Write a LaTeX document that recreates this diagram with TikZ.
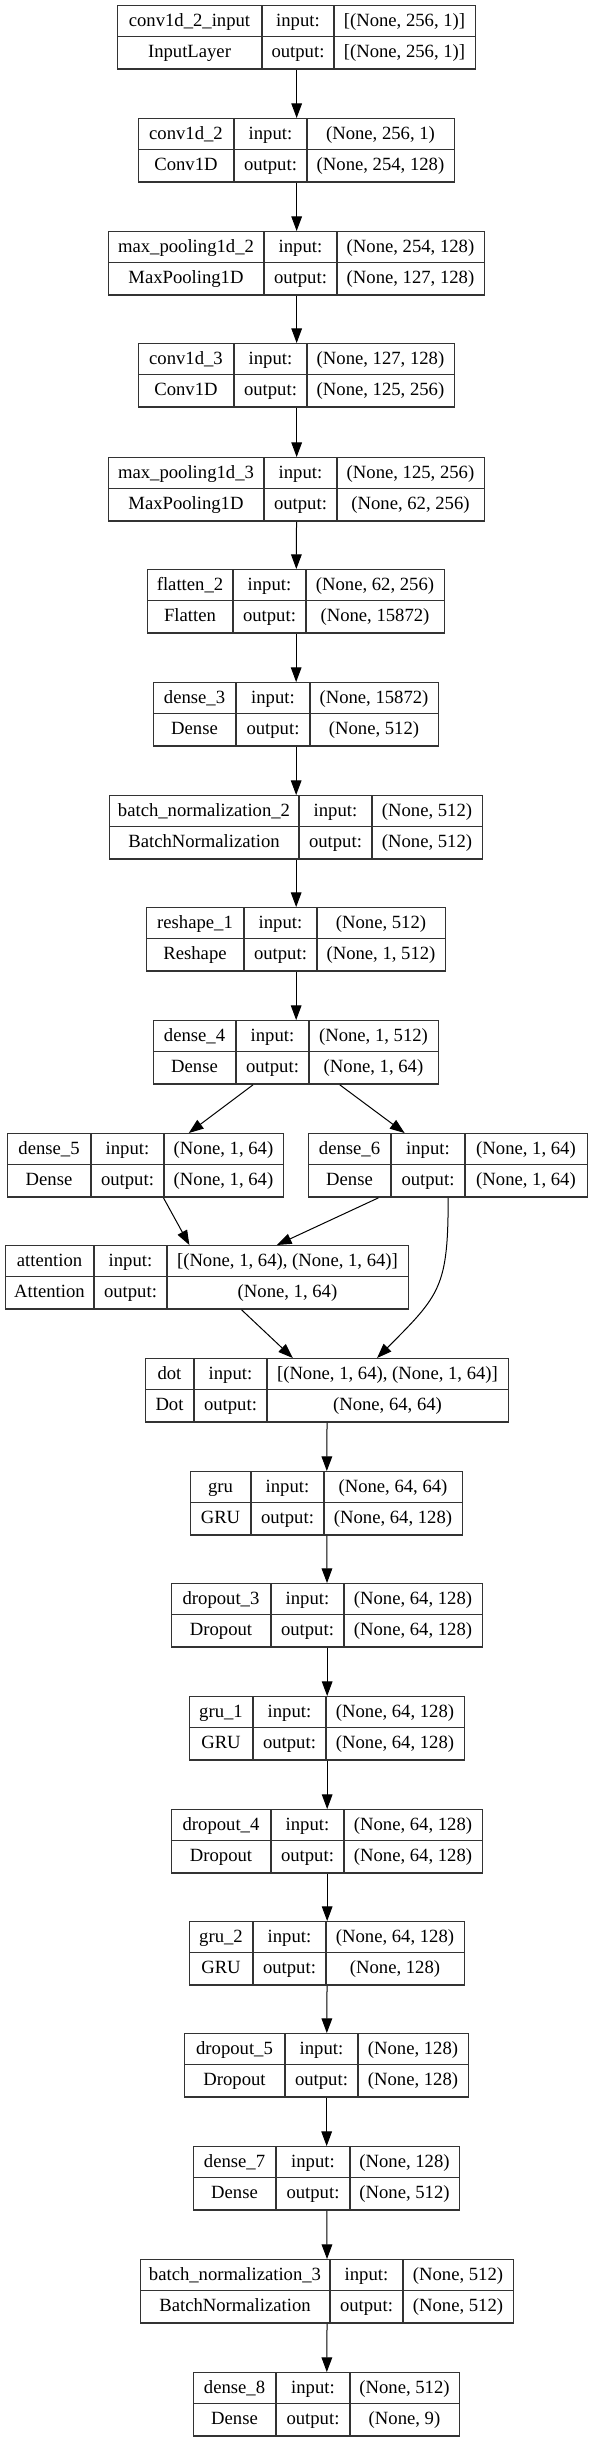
\documentclass[tikz,border=0pt]{standalone}
\usepackage{fontspec}
\setmainfont{Liberation Serif}
\usepackage{tikz}
\usetikzlibrary{arrows.meta,calc}
\definecolor{boxline}{HTML}{333333}
\tikzset{layerbox/.style={
    draw=boxline,
    line width=1pt,
    fill=white,
    inner sep=0pt,
    minimum height=47.6pt}}
\tikzset{cellline/.style={
    draw=boxline,
    line width=1pt}}
\tikzset{celltext/.style={
    inner sep=0pt,
    text height=9.5pt,
    text depth=3pt,
    font=\fontsize{14}{16}\selectfont}}
\tikzset{nnedge/.style={
    draw=black,
    line width=0.75pt,
    -{Triangle[length=11pt,width=8pt]}}}

% #1 id, #2 left, #3 first divider, #4 second divider, #5 right, #6 top,
% #7 layer name, #8 layer class, #9 {input shape}{output shape}
\newcommand{\nnlayer}[9]{%
  \node[layerbox, minimum width={(#5-#2)*0.75pt}, anchor=north west] (#1) at (#2,-#6) {};
  \draw[cellline] (#3,-#6) -- (#3,{-#6-63.5});
  \draw[cellline] (#4,-#6) -- (#4,{-#6-63.5});
  \draw[cellline] (#2,{-#6-31.75}) -- (#5,{-#6-31.75});
  \node[celltext] (#1-name) at ({(#2+#3)/2},{-#6-17}) {#7};
  \node[celltext] (#1-cls) at ({(#2+#3)/2},{-#6-48.5}) {#8};
  \node[celltext] (#1-in) at ({(#3+#4)/2},{-#6-17}) {input:};
  \node[celltext] (#1-out) at ({(#3+#4)/2},{-#6-48.5}) {output:};
  \nnshapes{#1}{(#4+#5)/2}{#6}#9}
\newcommand{\nnshapes}[5]{%
  \node[celltext] (#1-ishape) at ({#2},{-#3-17}) {#4};
  \node[celltext] (#1-oshape) at ({#2},{-#3-48.5}) {#5};}

\begin{document}
\begin{tikzpicture}[x=0.75pt,y=0.75pt]
\useasboundingbox (0,0) rectangle (591,-2441);

\nnlayer{inp}{117}{262}{334}{475}{5}{conv1d\_2\_input}{InputLayer}{{[(None, 256, 1)]}{[(None, 256, 1)]}}
\nnlayer{cva}{138}{234}{307}{454}{118}{conv1d\_2}{Conv1D}{{(None, 256, 1)}{(None, 254, 128)}}
\nnlayer{mpa}{108}{264}{337}{484}{231}{max\_pooling1d\_2}{MaxPooling1D}{{(None, 254, 128)}{(None, 127, 128)}}
\nnlayer{cvb}{138}{234}{307}{454}{343}{conv1d\_3}{Conv1D}{{(None, 127, 128)}{(None, 125, 256)}}
\nnlayer{mpb}{108}{264}{337}{484}{457}{max\_pooling1d\_3}{MaxPooling1D}{{(None, 125, 256)}{(None, 62, 256)}}
\nnlayer{flat}{147}{233}{306}{444}{569}{flatten\_2}{Flatten}{{(None, 62, 256)}{(None, 15872)}}
\nnlayer{dsa}{153}{236}{310}{438}{682}{dense\_3}{Dense}{{(None, 15872)}{(None, 512)}}
\nnlayer{bna}{109}{299}{372}{482}{795}{batch\_normalization\_2}{BatchNormalization}{{(None, 512)}{(None, 512)}}
\nnlayer{resh}{146}{244}{317}{445}{907}{reshape\_1}{Reshape}{{(None, 512)}{(None, 1, 512)}}
\nnlayer{dsb}{153}{236}{309}{438}{1020}{dense\_4}{Dense}{{(None, 1, 512)}{(None, 1, 64)}}
\nnlayer{dsc}{7}{91}{164}{283}{1133}{dense\_5}{Dense}{{(None, 1, 64)}{(None, 1, 64)}}
\nnlayer{dsd}{308}{391}{465}{587}{1133}{dense\_6}{Dense}{{(None, 1, 64)}{(None, 1, 64)}}
\nnlayer{att}{5}{94}{167}{408}{1245}{attention}{Attention}{{[(None, 1, 64), (None, 1, 64)]}{(None, 1, 64)}}
\nnlayer{dot}{145}{194}{267}{508}{1358}{dot}{Dot}{{[(None, 1, 64), (None, 1, 64)]}{(None, 64, 64)}}
\nnlayer{gra}{190}{251}{324}{462}{1471}{gru}{GRU}{{(None, 64, 64)}{(None, 64, 128)}}
\nnlayer{dra}{171}{271}{344}{482}{1583}{dropout\_3}{Dropout}{{(None, 64, 128)}{(None, 64, 128)}}
\nnlayer{grb}{189}{253}{326}{464}{1696}{gru\_1}{GRU}{{(None, 64, 128)}{(None, 64, 128)}}
\nnlayer{drb}{171}{271}{344}{482}{1809}{dropout\_4}{Dropout}{{(None, 64, 128)}{(None, 64, 128)}}
\nnlayer{grc}{189}{253}{326}{464}{1921}{gru\_2}{GRU}{{(None, 64, 128)}{(None, 128)}}
\nnlayer{drc}{184}{285}{358}{468}{2033}{dropout\_5}{Dropout}{{(None, 128)}{(None, 128)}}
\nnlayer{dse}{193}{276}{350}{459}{2146}{dense\_7}{Dense}{{(None, 128)}{(None, 512)}}
\nnlayer{bnb}{140}{330}{403}{513}{2259}{batch\_normalization\_3}{BatchNormalization}{{(None, 512)}{(None, 512)}}
\nnlayer{dsf}{193}{276}{350}{459}{2372}{dense\_8}{Dense}{{(None, 512)}{(None, 9)}}

\foreach \a/\b in {inp/cva,cva/mpa,mpa/cvb,cvb/mpb,mpb/flat,flat/dsa,dsa/bna,bna/resh,
  resh/dsb,dsb/dsc,dsb/dsd,dsc/att,dsd/att,att/dot,dot/gra,gra/dra,dra/grb,grb/drb,
  drb/grc,grc/drc,drc/dse,dse/bnb,bnb/dsf}
  \draw[nnedge] (\a) -- (\b);

\draw[nnedge] (dsd.south) to[out=-90,in=45,looseness=1.3] (dot.33);
\end{tikzpicture}
\end{document}
